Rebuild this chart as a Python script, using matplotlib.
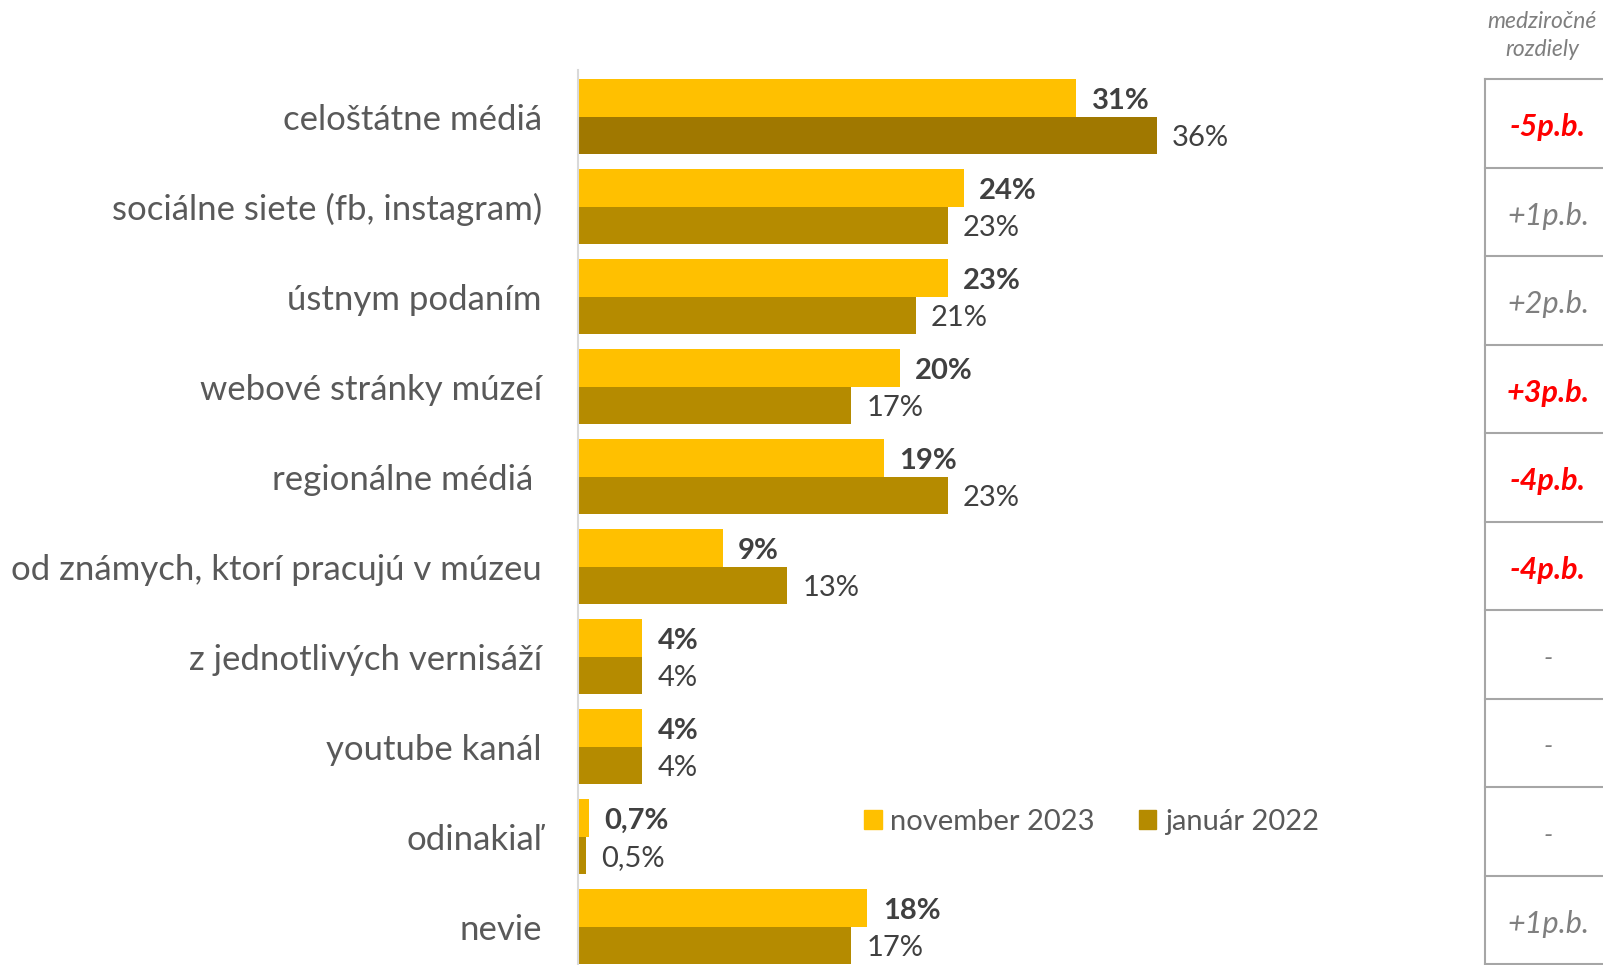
import matplotlib
matplotlib.use("Agg")
import matplotlib.pyplot as plt
from matplotlib.patches import Patch
import numpy as np

plt.rcParams['font.family'] = ['Lato', 'DejaVu Sans']

categories = [
    "celoštátne médiá",
    "sociálne siete (fb, instagram)",
    "ústnym podaním",
    "webové stránky múzeí",
    "regionálne médiá ",
    "od známych, ktorí pracujú v múzeu",
    "z jednotlivých vernisáží",
    "youtube kanál",
    "odinakiaľ",
    "nevie",
]
nov_2023 = [31, 24, 23, 20, 19, 9, 4, 4, 0.7, 18]
jan_2022 = [36, 23, 21, 17, 23, 13, 4, 4, 0.5, 17]
series_names = ["november 2023", "január 2022"]

YELLOW = "#FFC000"
GOLD = "#B58B00"
GOLD_DARK = "#A07800"
TEXT = "#595959"
VALUE = "#404040"

W, H = 1603, 965
fig = plt.figure(figsize=(W / 100, H / 100), dpi=100)

# main bar axes, positioned in pixel terms
ax_left, ax_right, ax_top = 578, 1485, 70
ax = fig.add_axes([ax_left / W, 0, (ax_right - ax_left) / W, (H - ax_top) / H])
px_per_pct = 16.08
pitch = 90.0
first_center = 116.5
ax.set_xlim(0, (ax_right - ax_left) / px_per_pct)
ax.set_ylim((H - first_center) / pitch, (ax_top - first_center) / pitch)

y = np.arange(len(categories))
bh = 0.415
gold_colors = [GOLD_DARK] + [GOLD] * (len(categories) - 1)
ax.barh(y - bh / 2, nov_2023, height=bh, color=YELLOW)
ax.barh(y + bh / 2, jan_2022, height=bh, color=gold_colors)


def fmt(v):
    s = f"{v:.1f}".rstrip("0").rstrip(".")
    return s.replace(".", ",") + "%"


for yi, v in zip(y, nov_2023):
    ax.annotate(fmt(v), (v, yi - bh / 2), xytext=(11, -2), textcoords="offset points",
                va="center", ha="left", fontsize=21, fontweight="bold", color=VALUE)
for yi, v in zip(y, jan_2022):
    ax.annotate(fmt(v), (v, yi + bh / 2), xytext=(11, -2), textcoords="offset points",
                va="center", ha="left", fontsize=21, color=VALUE)

ax.set_yticks(y)
ax.set_yticklabels(categories, fontsize=25, color=TEXT)
ax.tick_params(axis="y", length=0, pad=26)
ax.set_xticks([])
for side in ("top", "right", "bottom"):
    ax.spines[side].set_visible(False)
ax.spines["left"].set_color("#D9D9D9")
ax.spines["left"].set_linewidth(1.5)

handles = [Patch(color=YELLOW, label=series_names[0]),
           Patch(color=GOLD, label=series_names[1])]
leg = ax.legend(handles=handles, loc="center left",
                bbox_to_anchor=(864 / W, (H - 822) / H),
                bbox_transform=fig.transFigure, ncol=2, frameon=False,
                fontsize=21, handlelength=0.6, handleheight=0.6,
                handletextpad=0.3, columnspacing=1.5, borderaxespad=0, borderpad=0)
for t in leg.get_texts():
    t.set_color(TEXT)

# year-on-year difference column on the right
ov = fig.add_axes([0, 0, 1, 1])
ov.set_xlim(0, W)
ov.set_ylim(H, 0)
ov.axis("off")
ov.patch.set_alpha(0)

tbl_x = 1485
row_top, row_h = 79, 88.5
n = len(categories)
ov.plot([tbl_x, tbl_x], [row_top, row_top + n * row_h], color="#A6A6A6", lw=1.5)
for k in range(n + 1):
    yy = row_top + k * row_h
    ov.plot([tbl_x, W], [yy, yy], color="#A6A6A6", lw=1.5)

ov.text(1542, 22, "medziročné", ha="center", va="center", fontsize=16.5,
        style="italic", color="#7F7F7F")
ov.text(1542, 50, "rozdiely", ha="center", va="center", fontsize=16.5,
        style="italic", color="#7F7F7F")

tx = 1548
for k, (a, b) in enumerate(zip(nov_2023, jan_2022)):
    d = int(round(a - b))
    cy = row_top + (k + 0.5) * row_h + 4
    if d == 0:
        ov.text(tx, cy, "-", ha="center", va="center", fontsize=19,
                style="italic", color="#7F7F7F")
    elif abs(d) >= 3:
        ov.text(tx, cy, f"{d:+d}p.b.", ha="center", va="center", fontsize=22,
                style="italic", fontweight="bold", color="#FF0000")
    else:
        ov.text(tx, cy, f"{d:+d}p.b.", ha="center", va="center", fontsize=22,
                style="italic", color="#7F7F7F")

fig.savefig("out.png", dpi=100, facecolor="white")
